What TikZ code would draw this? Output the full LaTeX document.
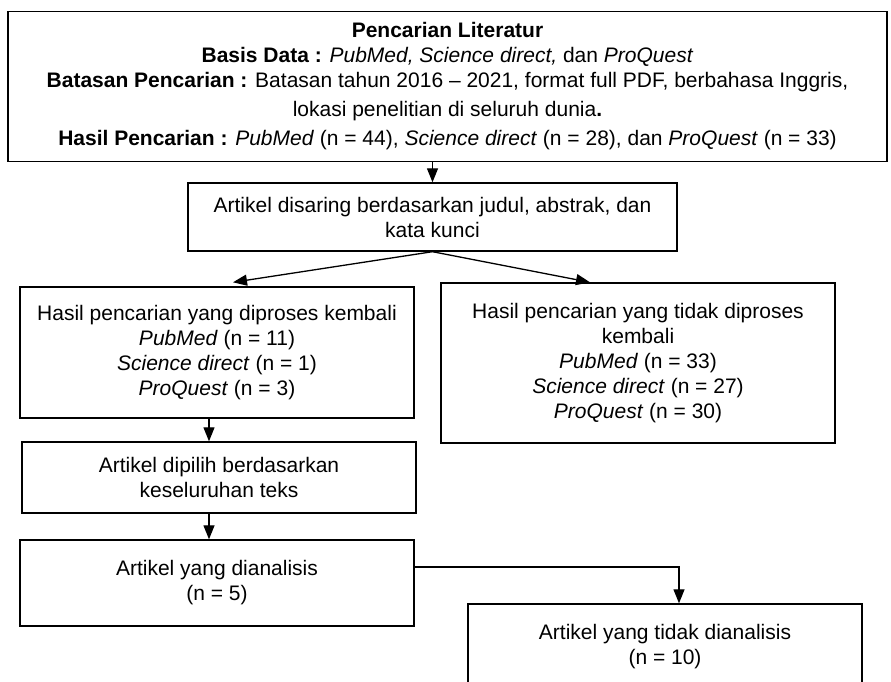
\documentclass[tikz,border=0pt]{standalone}
\usepackage{fontspec}
\setmainfont{Liberation Sans}
\usetikzlibrary{arrows.meta}
\tikzset{
  >={Triangle[length=14pt,width=11pt]},
  flowbox/.style={draw, line width=1.4pt, inner sep=0pt, align=center,
    font=\fontsize{21}{25}\selectfont},
  flowline/.style={line width=1.3pt, ->}
}
\begin{document}
\begin{tikzpicture}[x=1pt,y=-1pt]
  \clip (0,0) rectangle (891,682);
  \node[flowbox, minimum width=879pt, minimum height=150pt] (search) at (447.5,86.5)
    {{\bfseries Pencarian Literatur}\\
     {\bfseries Basis Data :} \textit{PubMed, Science direct,} dan \textit{ProQuest}\\
     {\bfseries Batasan Pencarian :} Batasan tahun 2016 – 2021, format full PDF, berbahasa Inggris,\\[4pt]
     lokasi penelitian di seluruh dunia{\bfseries .}\\[4pt]
     {\bfseries Hasil Pencarian :} \textit{PubMed} (n = 44), \textit{Science direct} (n = 28), dan \textit{ProQuest} (n = 33)};
  \node[flowbox, minimum width=489pt, minimum height=68pt] (screen) at (432.5,217)
    {Artikel disaring berdasarkan judul, abstrak, dan\\ kata kunci};
  \node[flowbox, minimum width=394pt, minimum height=131pt] (kept) at (217,352.5)
    {Hasil pencarian yang diproses kembali\\ \textit{PubMed} (n = 11)\\
     \textit{Science direct} (n = 1)\\ \textit{ProQuest} (n = 3)};
  \node[flowbox, minimum width=394pt, minimum height=160pt] (dropped) at (638,363)
    {Hasil pencarian yang tidak diproses\\ kembali\\ \textit{PubMed} (n = 33)\\
     \textit{Science direct} (n = 27)\\ \textit{ProQuest} (n = 30)};
  \node[flowbox, minimum width=394pt, minimum height=71pt] (fulltext) at (219,477.5)
    {Artikel dipilih berdasarkan\\ keseluruhan teks};
  \node[flowbox, minimum width=394pt, minimum height=86pt] (included) at (217,583)
    {Artikel yang dianalisis\\ (n = 5)};
  \node[flowbox, minimum width=394pt, minimum height=86pt] (excluded) at (665,647)
    {Artikel yang tidak dianalisis\\ (n = 10)};
  % arrows
  \draw[flowline] (search.south -| screen.north) -- (screen.north);
  \draw[flowline] (screen.south) -- ([xshift=16pt,yshift=4pt]kept.north);
  \draw[flowline] (screen.south) -- ([xshift=-48pt]dropped.north);
  \draw[flowline] ([xshift=-8pt]kept.south) -- ([xshift=-10pt]fulltext.north);
  \draw[flowline] ([xshift=-10pt]fulltext.south) -- ([xshift=-8pt]included.north);
  \draw[flowline] ([yshift=16pt]included.east) -| ([xshift=14pt]excluded.north);
\end{tikzpicture}
\end{document}
